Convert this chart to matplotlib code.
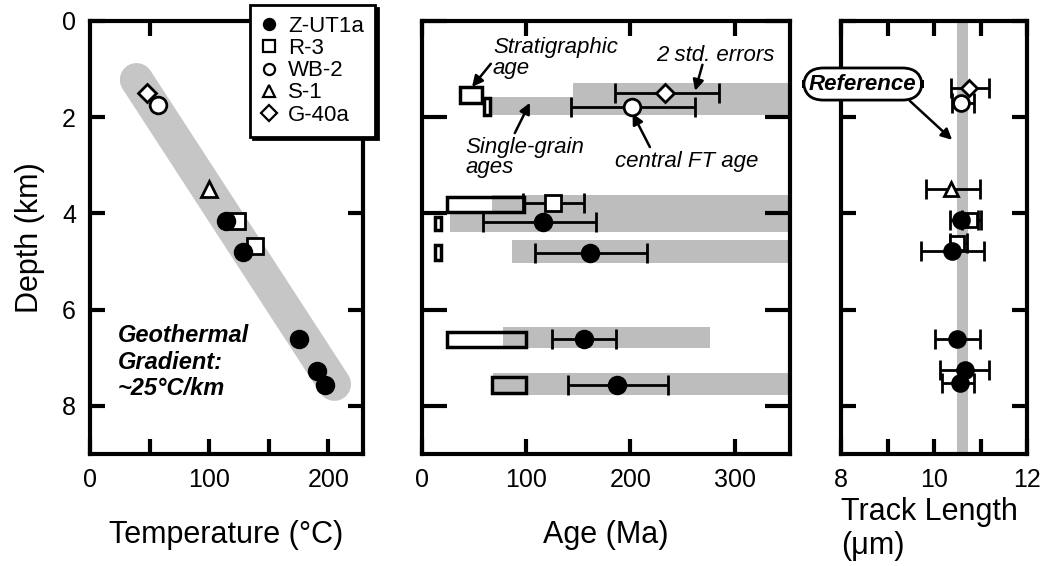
import matplotlib
matplotlib.use("Agg")
import matplotlib.pyplot as plt
import numpy as np
from matplotlib.lines import Line2D

plt.rcParams["font.family"] = ["Liberation Sans", "DejaVu Sans"]

# sample symbols
sample_names = ["Z-UT1a", "R-3", "WB-2", "S-1", "G-40a"]
sample_marker = {"Z-UT1a": "o", "R-3": "s", "WB-2": "o", "S-1": "^", "G-40a": "D"}
sample_fill = {"Z-UT1a": "k", "R-3": "white", "WB-2": "white", "S-1": "white", "G-40a": "white"}
sample_size = {"Z-UT1a": 12, "R-3": 11, "WB-2": 12, "S-1": 11, "G-40a": 9}

# temperature panel
temp_sample = ["G-40a", "WB-2", "S-1", "R-3", "R-3", "Z-UT1a", "Z-UT1a", "Z-UT1a", "Z-UT1a", "Z-UT1a"]
temp_c = [48, 57, 100, 123, 138, 114, 128, 175, 190, 197]
temp_depth = [1.5, 1.75, 3.5, 4.15, 4.68, 4.15, 4.8, 6.6, 7.27, 7.57]
gradient_temp = [39, 205]
gradient_depth = [1.22, 7.55]

# age panel: single-grain age ranges (grey) and stratigraphic ages (open boxes)
band_left = [145, 65, 67, 27, 86, 78, 68]
band_right = [360, 360, 360, 360, 360, 276, 360]
band_top = [1.29, 1.58, 3.62, 3.99, 4.55, 6.36, 7.32]
band_bottom = [1.64, 1.95, 4.03, 4.39, 5.03, 6.80, 7.78]

strat_left = [36, 59.5, 24, 12.5, 12.5, 24, 67]
strat_right = [57.5, 65, 98, 18, 18, 100, 100]
strat_top = [1.37, 1.60, 3.66, 4.07, 4.66, 6.47, 7.40]
strat_bottom = [1.70, 1.95, 3.97, 4.35, 4.97, 6.78, 7.73]

age_sample = ["G-40a", "WB-2", "R-3", "Z-UT1a", "Z-UT1a", "Z-UT1a", "Z-UT1a"]
age_ma = [233, 201, 126, 116, 161, 155, 187]
age_depth = [1.50, 1.79, 3.78, 4.18, 4.82, 6.61, 7.57]
age_lo = [185, 143, 97, 58.5, 108, 125, 140]
age_hi = [285, 262, 155, 167, 216, 186, 236]

# track length panel
len_sample = ["G-40a", "WB-2", "S-1", "R-3", "Z-UT1a", "R-3", "Z-UT1a", "Z-UT1a", "Z-UT1a", "Z-UT1a"]
len_um = [10.76, 10.58, 10.36, 10.78, 10.58, 10.50, 10.38, 10.50, 10.66, 10.56]
len_depth = [1.40, 1.70, 3.50, 4.13, 4.13, 4.62, 4.78, 6.60, 7.26, 7.53]
len_lo = [10.36, 10.38, 9.82, 10.60, 10.35, 10.35, 9.73, 10.02, 10.13, 10.18]
len_hi = [11.19, 10.85, 10.98, 11.00, 10.95, 10.70, 11.07, 10.98, 11.19, 10.87]
reference_len = [10.49, 10.73]

GREY = "#bdbdbd"
W, H = 1043, 566


def draw_points(ax, names, xs, ys, scale=1.0):
    names = np.array(names)
    xs = np.array(xs)
    ys = np.array(ys)
    for s in ["R-3", "WB-2", "S-1", "G-40a", "Z-UT1a"]:
        m = names == s
        if m.any():
            ax.plot(xs[m], ys[m], ls="none", marker=sample_marker[s],
                    ms=sample_size[s] * scale, mfc=sample_fill[s], mec="k",
                    mew=2, zorder=5, clip_on=False)


def style(ax, ylen=11):
    for sp in ax.spines.values():
        sp.set_linewidth(3)
    ax.tick_params(which="both", direction="in", length=11, width=3,
                   top=True, right=True, labelsize=18, pad=10)
    ax.tick_params(axis="y", which="both", length=ylen)
    ax.set_ylim(9.0, 0)
    ax.set_yticks([0, 2, 4, 6, 8])


fig = plt.figure(figsize=(W / 100, H / 100), dpi=100)
bottom, height = 112 / H, 433 / H
axL = fig.add_axes([90 / W, bottom, 273 / W, height])
axM = fig.add_axes([422 / W, bottom, 368 / W, height])
axR = fig.add_axes([841 / W, bottom, 186 / W, height])

# ---- temperature
style(axL)
axL.plot(gradient_temp, gradient_depth, color="#c6c6c6", lw=24,
         solid_capstyle="round", zorder=1)
draw_points(axL, temp_sample, temp_c, temp_depth)
axL.set_xlim(1.5, 229)
axL.set_xticks([0, 100, 200])
axL.set_xticks([50, 150], minor=True)
axL.tick_params(which="major", top=False)
axL.set_ylabel("Depth (km)", fontsize=22, labelpad=12)
axL.set_xlabel("Temperature (°C)", fontsize=22, labelpad=20)
axL.text(23, 7.09, "Geothermal\nGradient:\n~25°C/km", fontsize=17,
         fontweight="bold", fontstyle="italic", ha="left", va="center",
         linespacing=1.2)

handles = [Line2D([], [], ls="none", marker=sample_marker[s], ms=8,
                  mfc=sample_fill[s], mec="k", mew=1.6) for s in sample_names]
leg = axL.legend(handles, sample_names, loc="upper left",
                 bbox_to_anchor=(250 / W, 1 - 5 / H), bbox_transform=fig.transFigure,
                 fontsize=16, labelspacing=0.05, handlelength=0.7, handletextpad=0.5,
                 borderpad=0.5, borderaxespad=0, fancybox=False, edgecolor="k",
                 framealpha=1, shadow={"color": "k", "alpha": 1})
leg.get_frame().set_linewidth(2)
leg.set_zorder(10)

# ---- age
style(axM, ylen=18)
axM.barh([(t + b) / 2 for t, b in zip(band_top, band_bottom)],
         [r - l for l, r in zip(band_left, band_right)],
         height=[b - t for t, b in zip(band_top, band_bottom)],
         left=band_left, color=GREY, lw=0, zorder=1)
axM.barh([(t + b) / 2 for t, b in zip(strat_top, strat_bottom)],
         [r - l for l, r in zip(strat_left, strat_right)],
         height=[b - t for t, b in zip(strat_top, strat_bottom)],
         left=strat_left, facecolor="none", edgecolor="k", lw=2.5, zorder=3)
age_ma_a = np.array(age_ma)
axM.errorbar(age_ma, age_depth,
             xerr=[age_ma_a - np.array(age_lo), np.array(age_hi) - age_ma_a],
             fmt="none", ecolor="k", elinewidth=2, capsize=7, capthick=2, zorder=4)
draw_points(axM, age_sample, age_ma, age_depth)
axM.set_xlim(0, 353)
axM.set_xticks([0, 100, 200, 300])
axM.tick_params(labelleft=False)
axM.set_xlabel("Age (Ma)", fontsize=22, labelpad=20)

arrow = dict(arrowstyle="-|>", color="k", lw=1.8, mutation_scale=16, shrinkA=0, shrinkB=0)
txt = dict(fontsize=16, fontstyle="italic", ha="left", va="center", linespacing=0.95)
axM.text(68, 0.77, "Stratigraphic\nage", **txt)
axM.annotate("", xy=(48, 1.37), xytext=(66, 0.89), arrowprops=arrow)
axM.text(42, 2.84, "Single-grain\nages", **txt)
axM.annotate("", xy=(103.5, 1.70), xytext=(89, 2.33), arrowprops=arrow)
axM.text(185, 2.93, "central FT age", **txt)
axM.annotate("", xy=(202, 1.92), xytext=(218.6, 2.62), arrowprops=arrow)
axM.text(225, 0.71, "2 std. errors", **txt)
axM.annotate("", xy=(262, 1.45), xytext=(269, 0.91), arrowprops=arrow)

# ---- track length
style(axR)
axR.axvspan(reference_len[0], reference_len[1], color=GREY, lw=0, zorder=1)
len_um_a = np.array(len_um)
axR.errorbar(len_um, len_depth,
             xerr=[len_um_a - np.array(len_lo), np.array(len_hi) - len_um_a],
             fmt="none", ecolor="k", elinewidth=2, capsize=7, capthick=2, zorder=4)
draw_points(axR, len_sample, len_um, len_depth, scale=0.95)
axR.set_xlim(8, 12)
axR.set_xticks([8, 10, 12])
axR.set_xticks([9, 11], minor=True)
axR.tick_params(labelleft=False)
axR.set_xlabel("Track Length\n(μm)", fontsize=22, loc="left", labelpad=4,
               linespacing=1.15)
axR.text(8.47, 1.31, "Reference", fontsize=16, fontweight="bold", fontstyle="italic",
         ha="center", va="center", clip_on=False, zorder=6,
         bbox=dict(boxstyle="round,pad=0.25,rounding_size=0.9", fc="white", ec="k", lw=2))
axR.annotate("", xy=(10.39, 2.47), xytext=(9.48, 1.66), arrowprops=arrow)

fig.savefig("out.png", dpi=100)
